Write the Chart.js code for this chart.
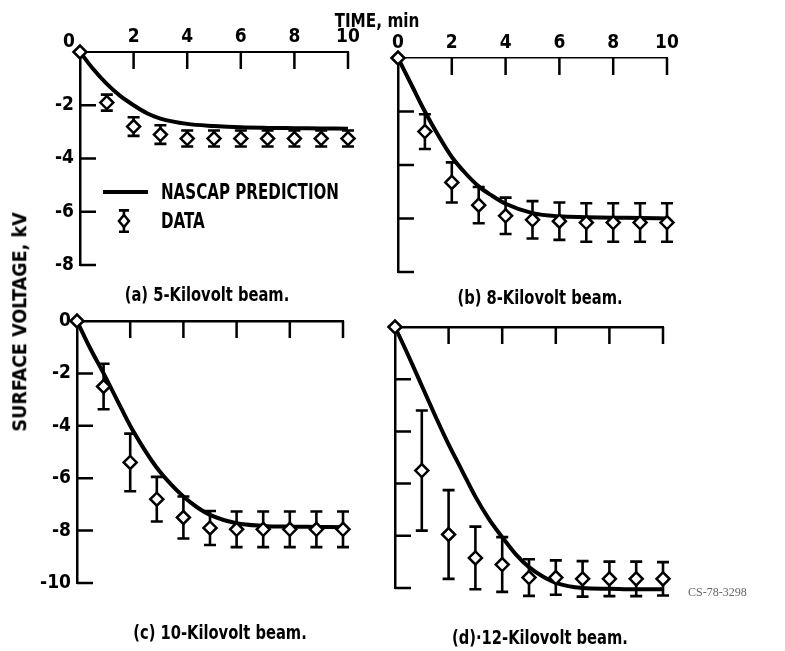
<!DOCTYPE html>
<html>
<head>
<meta charset="utf-8">
<script src="https://cdn.jsdelivr.net/npm/chart.js@4.4.1/dist/chart.umd.min.js"></script>
<style>
  body { margin:0; background:#fff; width:785px; height:651px; position:relative; overflow:hidden;
         font-family:"Liberation Sans Narrow","DejaVu Sans Condensed","Arial Narrow",sans-serif; }
  .panel { position:absolute; }
  .txt { position:absolute; font-weight:bold; color:#000; white-space:nowrap; line-height:1; }
</style>
</head>
<body>

<div class="panel" style="left:0;top:0;width:380px;height:290px"><canvas id="graficaA"></canvas></div>
<div class="panel" style="left:380px;top:0;width:405px;height:290px"><canvas id="graficaB"></canvas></div>
<div class="panel" style="left:0;top:290px;width:380px;height:361px"><canvas id="graficaC"></canvas></div>
<div class="panel" style="left:380px;top:290px;width:405px;height:361px"><canvas id="graficaD"></canvas></div>

<div class="txt" style="left:377px;top:20px;font-size:20px;transform:translate(-50%,-50%) scaleX(0.85)">TIME, min</div>
<div class="txt" style="left:69px;top:40px;font-size:19px;transform:translate(-50%,-50%)">0</div>
<div class="txt" style="left:20px;top:322px;font-size:19.5px;transform:translate(-50%,-50%) rotate(-90deg)">SURFACE VOLTAGE, kV</div>
<div class="txt" style="left:207px;top:294px;font-size:19px;transform:translate(-50%,-50%) scaleX(0.86)">(a) 5-Kilovolt beam.</div>
<div class="txt" style="left:540px;top:297px;font-size:19px;transform:translate(-50%,-50%) scaleX(0.86)">(b) 8-Kilovolt beam.</div>
<div class="txt" style="left:220px;top:632px;font-size:19px;transform:translate(-50%,-50%) scaleX(0.86)">(c) 10-Kilovolt beam.</div>
<div class="txt" style="left:540px;top:637px;font-size:19px;transform:translate(-50%,-50%) scaleX(0.86)">(d)·12-Kilovolt beam.</div>
<div class="txt" style="left:688px;top:586px;font-size:12px;font-weight:normal;color:#666;font-family:'Liberation Serif',serif">CS-78-3298</div>

<script>
const FUENTE = '"Liberation Sans Narrow","DejaVu Sans Condensed","Arial Narrow",sans-serif';

// tiempo de las mediciones (min)
const TIEMPO = [0, 1, 2, 3, 4, 5, 6, 7, 8, 9, 10];

// (a) haz de 5 kV
const CURVA_A_X = [0, 0.5, 1, 1.5, 2, 2.5, 3, 4, 5, 6, 7, 8, 9, 10];
const CURVA_A_Y = [0, -0.65, -1.2, -1.65, -2.0, -2.3, -2.5, -2.7, -2.78, -2.83, -2.85, -2.86, -2.87, -2.88];
const DATOS_A = [0, -1.9, -2.8, -3.1, -3.25, -3.25, -3.25, -3.25, -3.25, -3.25, -3.25];
const ERROR_A = [0, 0.3, 0.35, 0.35, 0.3, 0.3, 0.3, 0.3, 0.3, 0.3, 0.3];

// (b) haz de 8 kV
const CURVA_B_X = [0, 0.5, 1, 1.5, 2, 2.5, 3, 3.5, 4, 5, 6, 7, 8, 9, 10];
const CURVA_B_Y = [0, -1.0, -2.0, -2.9, -3.7, -4.3, -4.8, -5.15, -5.45, -5.8, -5.92, -5.95, -5.97, -5.98, -6.0];
const DATOS_B = [0, -2.75, -4.65, -5.5, -5.9, -6.05, -6.1, -6.15, -6.15, -6.15, -6.15];
const ERROR_B = [0, 0.65, 0.75, 0.68, 0.68, 0.7, 0.7, 0.72, 0.72, 0.72, 0.72];

// (c) haz de 10 kV
const CURVA_C_X = [0, 0.5, 1, 1.5, 2, 2.5, 3, 3.5, 4, 4.5, 5, 6, 7, 8, 9, 10];
const CURVA_C_Y = [0, -1.05, -2.0, -3.0, -4.0, -4.85, -5.6, -6.2, -6.7, -7.1, -7.4, -7.72, -7.82, -7.85, -7.86, -7.87];
const DATOS_C = [0, -2.5, -5.4, -6.8, -7.5, -7.9, -7.95, -7.95, -7.95, -7.95, -7.95];
const ERROR_C = [0, 0.87, 1.1, 0.85, 0.8, 0.65, 0.68, 0.68, 0.68, 0.68, 0.68];

// (d) haz de 12 kV
const CURVA_D_X = [0, 0.5, 1, 1.5, 2, 2.5, 3, 3.5, 4, 4.5, 5, 5.5, 6, 7, 8, 9, 10];
const CURVA_D_Y = [0, -1.1, -2.25, -3.4, -4.5, -5.5, -6.5, -7.35, -8.05, -8.7, -9.2, -9.55, -9.8, -10.0, -10.03, -10.05, -10.05];
const DATOS_D = [0, -5.5, -7.95, -8.85, -9.1, -9.6, -9.6, -9.65, -9.65, -9.65, -9.65];
const ERROR_D = [0, 2.3, 1.7, 1.2, 1.05, 0.7, 0.66, 0.68, 0.66, 0.66, 0.64];

// ===== barras de error (debajo de los rombos) =====
const barrasError = {
  id: "barrasError",
  beforeDatasetsDraw(chart) {
    const { ctx, scales: { x, y } } = chart;
    ctx.save();
    ctx.strokeStyle = "#000";
    ctx.lineWidth = 2.6;
    chart.data.datasets.forEach(ds => {
      if (!ds.errores) return;
      ds.data.forEach((p, i) => {
        const e = ds.errores[i];
        if (!e) return;
        const px = x.getPixelForValue(p.x);
        const arriba = y.getPixelForValue(p.y + e);
        const abajo = y.getPixelForValue(p.y - e);
        ctx.beginPath();
        ctx.moveTo(px, arriba); ctx.lineTo(px, abajo);
        ctx.moveTo(px - 6, arriba); ctx.lineTo(px + 6, arriba);
        ctx.moveTo(px - 6, abajo); ctx.lineTo(px + 6, abajo);
        ctx.stroke();
      });
    });
    ctx.restore();
  }
};

// ===== marcas de los ejes hacia dentro =====
const marcasDentro = {
  id: "marcasDentro",
  beforeDatasetsDraw(chart) {
    const { ctx, chartArea: a, scales: { x, y } } = chart;
    ctx.save();
    ctx.strokeStyle = "#000";
    ctx.lineWidth = 2.5;
    ctx.beginPath();
    x.ticks.forEach(t => {
      if (t.value === x.min) return;
      const px = x.getPixelForValue(t.value);
      ctx.moveTo(px, a.top); ctx.lineTo(px, a.top + 17);
    });
    y.ticks.forEach(t => {
      if (t.value === y.max) return;
      const py = y.getPixelForValue(t.value);
      ctx.moveTo(a.left, py); ctx.lineTo(a.left + 16, py);
    });
    ctx.stroke();
    ctx.restore();
  }
};

// ===== leyenda del panel (a) =====
function textoEstrecho(ctx, texto, px, py) {
  ctx.save();
  ctx.translate(px, py);
  ctx.scale(0.8, 1);
  ctx.fillText(texto, 0, 0);
  ctx.restore();
}

const leyendaA = {
  id: "leyendaA",
  afterDraw(chart) {
    const { ctx, scales: { x, y } } = chart;
    const y1 = y.getPixelForValue(-5.26);
    const y2 = y.getPixelForValue(-6.35);
    ctx.save();
    ctx.strokeStyle = "#000";
    ctx.fillStyle = "#000";
    ctx.lineWidth = 4;
    ctx.beginPath();
    ctx.moveTo(x.getPixelForValue(0.86), y1);
    ctx.lineTo(x.getPixelForValue(2.54), y1);
    ctx.stroke();

    // simbolo de dato con barra
    const sx = x.getPixelForValue(1.64);
    const t = y.getPixelForValue(-5.95), b = y.getPixelForValue(-6.75);
    ctx.lineWidth = 2.6;
    ctx.beginPath();
    ctx.moveTo(sx, t); ctx.lineTo(sx, b);
    ctx.moveTo(sx - 5, t); ctx.lineTo(sx + 5, t);
    ctx.moveTo(sx - 5, b); ctx.lineTo(sx + 5, b);
    ctx.stroke();
    ctx.fillStyle = "#fff";
    ctx.lineWidth = 2.5;
    ctx.beginPath();
    ctx.moveTo(sx, y2 - 6); ctx.lineTo(sx + 5, y2); ctx.lineTo(sx, y2 + 6); ctx.lineTo(sx - 5, y2);
    ctx.closePath();
    ctx.fill(); ctx.stroke();

    ctx.fillStyle = "#000";
    ctx.font = "bold 21px " + FUENTE;
    ctx.textBaseline = "middle";
    textoEstrecho(ctx, "NASCAP PREDICTION", x.getPixelForValue(3.02), y1 + 1);
    textoEstrecho(ctx, "DATA", x.getPixelForValue(3.02), y2 + 1);
    ctx.restore();
  }
};

function puntos(xs, ys) {
  return xs.map((v, i) => ({ x: v, y: ys[i] }));
}

function crearPanel(id, cfg) {
  const plugins = [barrasError, marcasDentro];
  if (cfg.extra) plugins.push(cfg.extra);
  return new Chart(document.getElementById(id), {
    type: "scatter",
    data: {
      datasets: [
        {
          type: "scatter",
          data: puntos(TIEMPO, cfg.datos),
          errores: cfg.errores,
          pointStyle: "rectRot",
          pointRadius: 6.5,
          borderWidth: 2.5,
          borderColor: "#000",
          backgroundColor: "#fff",
          clip: false
        },
        {
          type: "line",
          data: puntos(cfg.curvaX, cfg.curvaY),
          borderColor: "#000",
          borderWidth: 4,
          pointRadius: 0,
          cubicInterpolationMode: "monotone",
          fill: false,
          clip: false
        }
      ]
    },
    options: {
      responsive: true,
      maintainAspectRatio: false,
      animation: false,
      events: [],
      layout: { padding: { left: 0, top: 0, right: cfg.padDer, bottom: cfg.padAba } },
      plugins: { legend: { display: false }, tooltip: { enabled: false } },
      scales: {
        x: {
          type: "linear",
          position: "top",
          min: 0, max: 10,
          afterFit: s => { s.height = cfg.altoX; },
          grid: { display: false, drawTicks: false },
          border: { display: true, color: "#000", width: cfg.bordeX || 2.5, dash: cfg.trazoX || [] },
          ticks: {
            display: cfg.etiquetasX,
            stepSize: 2,
            padding: 4,
            color: "#000",
            font: { family: FUENTE, size: 19, weight: "bold" },
            callback: v => (v === 0 && cfg.sinCeroX) ? "" : String(v)
          }
        },
        y: {
          type: "linear",
          min: cfg.minY, max: 0,
          afterFit: s => { s.width = cfg.anchoY; },
          grid: { display: false, drawTicks: false },
          border: { display: true, color: "#000", width: 2.5 },
          ticks: {
            display: cfg.etiquetasY !== "ninguna",
            stepSize: 2,
            padding: 6,
            color: "#000",
            font: { family: FUENTE, size: 19, weight: "bold" },
            callback: v => (v === 0 && cfg.etiquetasY === "sinCero") ? "" : String(v)
          }
        }
      }
    },
    plugins
  });
}

crearPanel("graficaA", {
  datos: DATOS_A, errores: ERROR_A, curvaX: CURVA_A_X, curvaY: CURVA_A_Y,
  minY: -8, anchoY: 80, altoX: 52, padDer: 32, padAba: 25,
  etiquetasX: true, sinCeroX: true, etiquetasY: "sinCero", extra: leyendaA,
  bordeX: 2, trazoX: [22, 5]
});

crearPanel("graficaB", {
  datos: DATOS_B, errores: ERROR_B, curvaX: CURVA_B_X, curvaY: CURVA_B_Y,
  minY: -8, anchoY: 18, altoX: 58, padDer: 118, padAba: 18,
  etiquetasX: true, etiquetasY: "ninguna",
  bordeX: 1.5, trazoX: [6, 3]
});

crearPanel("graficaC", {
  datos: DATOS_C, errores: ERROR_C, curvaX: CURVA_C_X, curvaY: CURVA_C_Y,
  minY: -10, anchoY: 77, altoX: 31, padDer: 37, padAba: 68,
  etiquetasX: false, etiquetasY: "todas"
});

crearPanel("graficaD", {
  datos: DATOS_D, errores: ERROR_D, curvaX: CURVA_D_X, curvaY: CURVA_D_Y,
  minY: -10, anchoY: 15, altoX: 37, padDer: 122, padAba: 63,
  etiquetasX: false, etiquetasY: "ninguna"
});
</script>
</body>
</html>
